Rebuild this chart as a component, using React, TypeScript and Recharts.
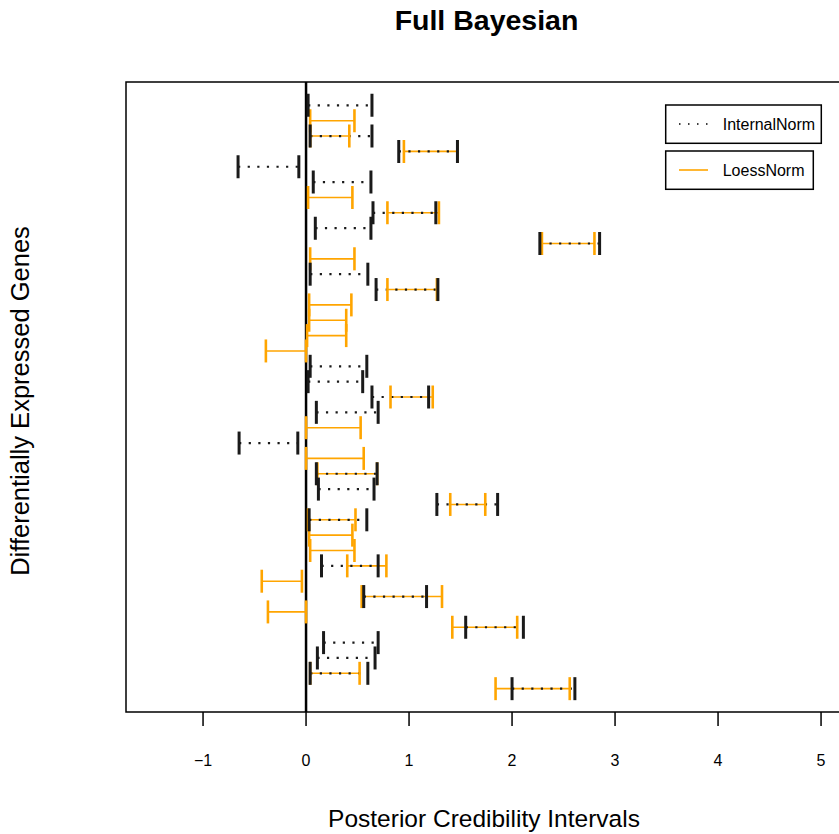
import React from 'react';
import { ComposedChart, XAxis, YAxis, Scatter, ReferenceLine, ReferenceArea } from 'recharts';

// gene rows (1 = top)
const genes = [1,2,3,4,5,6,7,8,9,10,11,12,13,14,15,16,17,18,19,20,21,22,23,24,25,26,27,28,29,30,31,32,33,34,35,36,37,38,39];
// InternalNorm interval bounds (null = not shown)
const internalLo: (number|null)[] = [0.02,null,0.04,0.90,-0.66,0.07,null,0.65,0.09,2.27,null,0.04,0.68,null,null,null,null,0.04,0.02,0.64,0.10,null,-0.65,null,0.10,0.12,1.27,0.03,null,null,0.15,null,0.56,null,1.55,0.17,0.11,0.04,2.00];
const internalHi: (number|null)[] = [0.64,null,0.64,1.47,-0.07,0.63,null,1.26,0.63,2.85,null,0.60,1.28,null,null,null,null,0.59,0.55,1.19,0.70,null,-0.08,null,0.69,0.66,1.86,0.59,null,null,0.70,null,1.17,null,2.11,0.70,0.67,0.60,2.61];
// LoessNorm interval bounds
const loessLo: (number|null)[] = [null,0.04,0.04,0.95,null,null,0.02,0.79,null,2.29,0.04,null,0.79,0.03,0.03,0.01,-0.39,null,null,0.82,null,0.00,null,0.00,0.11,null,1.40,0.02,0.03,0.04,0.40,-0.43,0.54,-0.37,1.42,null,null,0.04,1.84];
const loessHi: (number|null)[] = [null,0.47,0.42,1.47,null,null,0.45,1.29,null,2.80,0.47,null,1.27,0.44,0.39,0.39,0.00,null,null,1.23,null,0.53,null,0.56,0.69,null,1.74,0.48,0.45,0.47,0.78,-0.04,1.32,0.00,2.05,null,null,0.52,2.56];

const xTicks = [-1, 0, 1, 2, 3, 4, 5];
const xDomain: [number, number] = [-1.748, 5.25];
const yDomain: [number, number] = [-0.52, 40.52];

const FONT = '"Liberation Sans", Arial, Helvetica, sans-serif';
const ORANGE = '#FFA500';
const BLACK = '#1a1a1a';

type Seg = { g: number; lo: number; hi: number };
const makeSegs = (lo: (number|null)[], hi: (number|null)[]): Seg[] =>
  genes.flatMap((g, i) => (lo[i] === null || hi[i] === null ? [] : [{ g, lo: lo[i] as number, hi: hi[i] as number }]));

const internalSegs = makeSegs(internalLo, internalHi);
const loessSegs = makeSegs(loessLo, loessHi);
const capsOf = (segs: Seg[]) => segs.flatMap((s) => [{ x: s.lo, y: s.g }, { x: s.hi, y: s.g }]);
const internalCaps = capsOf(internalSegs);
const loessCaps = capsOf(loessSegs);

const capShape = (color: string, w: number) => (props: any) => {
  const { cx, cy } = props;
  if (cx == null || cy == null) return <g />;
  return <line x1={cx} x2={cx} y1={cy - 11.5} y2={cy + 11.5} stroke={color} strokeWidth={w} />;
};

export default function App() {
  return (
    <div style={{ position: 'absolute', left: 0, top: 0, width: 839, height: 834, overflow: 'hidden', background: '#fff' }}>
      <ComposedChart width={860} height={834} margin={{ top: 82, right: 13.2, bottom: 0, left: 126 }}>
        <XAxis
          type="number"
          dataKey="x"
          domain={xDomain}
          allowDataOverflow
          ticks={xTicks}
          interval={0}
          height={122}
          axisLine={false}
          tickSize={14}
          tickMargin={29}
          tickLine={{ stroke: '#000', strokeWidth: 1.5 }}
          tick={{ fill: '#000', fontSize: 16, fontFamily: FONT }}
          tickFormatter={(v: number) => String(v).replace('-', '\u2212')}
        />
        <YAxis type="number" dataKey="y" domain={yDomain} allowDataOverflow reversed hide />
        <ReferenceArea x1={xDomain[0]} x2={xDomain[1]} y1={yDomain[0]} y2={yDomain[1]} fill="none" fillOpacity={0} stroke="#000" strokeWidth={1.5} ifOverflow="visible" />
        <ReferenceLine x={0} stroke="#000" strokeWidth={2.5} ifOverflow="visible" />
        {loessSegs.map((s) => (
          <ReferenceLine key={'lo' + s.g} segment={[{ x: s.lo, y: s.g }, { x: s.hi, y: s.g }]} stroke={ORANGE} strokeWidth={1.6} ifOverflow="visible" />
        ))}
        <Scatter data={loessCaps} isAnimationActive={false} shape={capShape(ORANGE, 2.6)} />
        {internalSegs.map((s) => (
          <ReferenceLine key={'in' + s.g} segment={[{ x: s.lo, y: s.g }, { x: s.hi, y: s.g }]} stroke={BLACK} strokeWidth={2.2} strokeDasharray="2.2 7.4" ifOverflow="visible" />
        ))}
        <Scatter data={internalCaps} isAnimationActive={false} shape={capShape(BLACK, 3)} />
      </ComposedChart>
      <svg width={839} height={834} style={{ position: 'absolute', left: 0, top: 0, pointerEvents: 'none' }}>
        <text x={486.5} y={30} textAnchor="middle" fontFamily={FONT} fontWeight="bold" fontSize={28.5} fill="#000">Full Bayesian</text>
        <text x={484} y={826.7} textAnchor="middle" fontFamily={FONT} fontSize={24.5} fill="#000">Posterior Credibility Intervals</text>
        <text x={29.3} y={401} textAnchor="middle" fontFamily={FONT} fontSize={25.5} fill="#000" transform="rotate(-90 29.3 401)">Differentially Expressed Genes</text>
        <rect x={665.7} y={105} width={155.6} height={38.3} fill="#fff" stroke="#000" strokeWidth={1.5} />
        <line x1={679} x2={708} y1={124} y2={124} stroke="#000" strokeWidth={1.5} strokeDasharray="1.5 7.5" />
        <text x={722.7} y={129.7} fontFamily={FONT} fontSize={16} fill="#000">InternalNorm</text>
        <rect x={665.7} y={151} width={147.6} height={38.3} fill="#fff" stroke="#000" strokeWidth={1.5} />
        <line x1={679} x2={708} y1={170} y2={170} stroke={ORANGE} strokeWidth={1.6} />
        <text x={722.7} y={175.7} fontFamily={FONT} fontSize={16} fill="#000">LoessNorm</text>
      </svg>
    </div>
  );
}
